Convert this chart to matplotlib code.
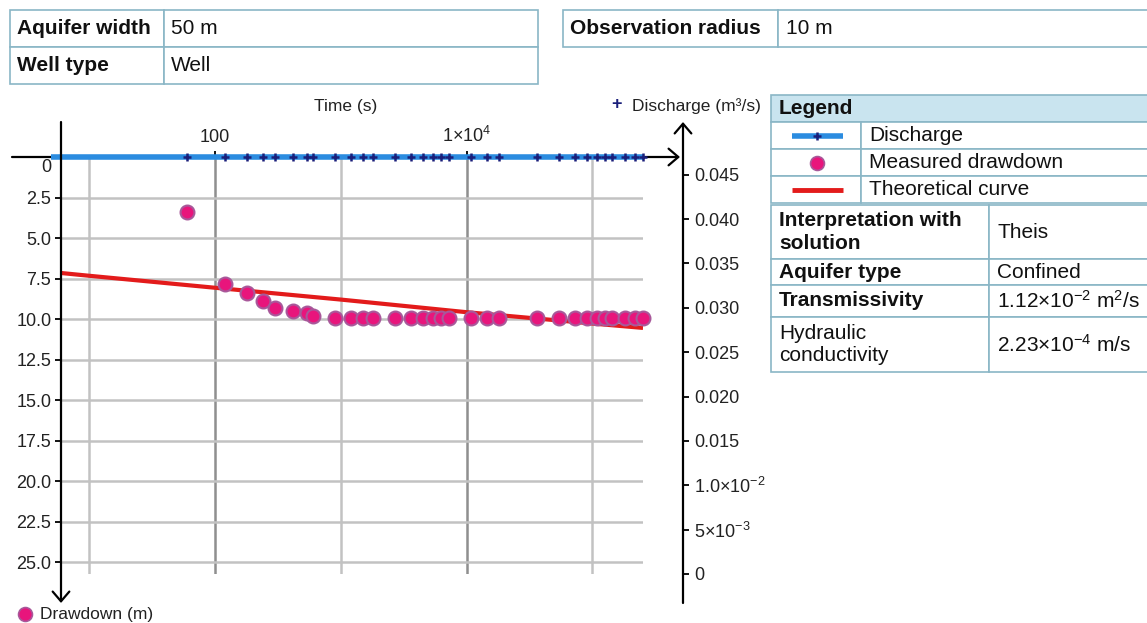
import matplotlib
matplotlib.use('Agg')
import matplotlib.pyplot as plt
from matplotlib.patches import Rectangle
from matplotlib.ticker import NullFormatter

plt.rcParams['font.family'] = ['Liberation Sans', 'DejaVu Sans']
plt.rcParams['mathtext.fontset'] = 'custom'
plt.rcParams['mathtext.rm'] = 'Liberation Sans'
plt.rcParams['mathtext.it'] = 'Liberation Sans:italic'
plt.rcParams['mathtext.bf'] = 'Liberation Sans:bold'

# ---------------- data ----------------
time_s = [60, 120, 180, 240, 300, 420, 540, 600, 900, 1200, 1500, 1800,
          2700, 3600, 4500, 5400, 6300, 7200, 10800, 14400, 18000, 36000,
          54000, 72000, 90000, 108000, 126000, 144000, 180000, 216000, 252000]
drawdown_m = [3.40, 7.82, 8.40, 8.89, 9.30, 9.53, 9.63, 9.83, 9.91, 9.91, 9.94, 9.94,
              9.94, 9.94, 9.94, 9.94, 9.94, 9.94, 9.94, 9.94, 9.94, 9.94,
              9.94, 9.94, 9.94, 9.94, 9.94, 9.94, 9.94, 9.94, 9.94]
discharge_m3s = [0.047, 0.047, 0.047, 0.047, 0.047, 0.047, 0.047, 0.047, 0.047, 0.047,
                 0.047, 0.047, 0.047, 0.047, 0.047, 0.047, 0.047, 0.047, 0.047, 0.047,
                 0.047, 0.047, 0.047, 0.047, 0.047, 0.047, 0.047, 0.047, 0.047, 0.047,
                 0.047]
discharge_line_t = [5, 252000]
discharge_line_q = [0.047, 0.047]
theis_t = [6, 10, 100, 1000, 10000, 100000, 252000]
theis_s = [7.16, 7.33, 8.07, 8.80, 9.58, 10.28, 10.55]

drawdown_ticks = [0, 2.5, 5.0, 7.5, 10.0, 12.5, 15.0, 17.5, 20.0, 22.5, 25.0]
drawdown_tick_labels = ['0', '2.5', '5.0', '7.5', '10.0', '12.5', '15.0', '17.5',
                        '20.0', '22.5', '25.0']
discharge_ticks = [0, 0.005, 0.010, 0.015, 0.020, 0.025, 0.030, 0.035, 0.040, 0.045]
discharge_tick_labels = ['0', r'$5{\times}10^{-3}$', r'$1.0{\times}10^{-2}$', '0.015', '0.020',
                         '0.025', '0.030', '0.035', '0.040', '0.045']
time_ticks = [100, 10000]
time_tick_labels = ['100', r'$1{\times}10^{4}$']
time_minor_ticks = [10, 1000, 100000]

top_table1 = [('Aquifer width', '50 m'), ('Well type', 'Well')]
top_table2 = [('Observation radius', '10 m')]
legend_rows = ['Discharge', 'Measured drawdown', 'Theoretical curve']
result_rows = [('Interpretation with\nsolution', 'Theis', True),
               ('Aquifer type', 'Confined', True),
               ('Transmissivity', r'$1.12{\times}10^{-2}\ \mathrm{m^{2}/s}$', True),
               ('Hydraulic\nconductivity', r'$2.23{\times}10^{-4}\ \mathrm{m/s}$', False)]

# ---------------- styles ----------------
PINK = '#e8157c'
PINK_EDGE = '#a8589a'
BLUE = '#2b8ce0'
NAVY = '#1a1f7a'
RED = '#e31b1b'
BORDER = '#8ab6c6'
HEADER = '#c9e4ef'
TXT = '#111111'

W, H = 1147, 623
fig = plt.figure(figsize=(W / 100, H / 100), dpi=100)
fig.patch.set_facecolor('white')


def fpos(x0, y0, x1, y1):
    return [x0 / W, 1 - y1 / H, (x1 - x0) / W, (y1 - y0) / H]


ax = fig.add_axes(fpos(61, 157, 643, 574))
ax.set_facecolor('none')
for s in ax.spines.values():
    s.set_visible(False)
ax.set_xscale('log')
ax.set_xlim(6, 252000)
ax.set_ylim(25.74, 0)

ax2 = ax.twinx()
ax2.set_ylim(0, 0.047)
for s in ax2.spines.values():
    s.set_visible(False)
ax2.spines['right'].set_position(('axes', (683 - 61) / (643 - 61)))

ov = fig.add_axes([0, 0, 1, 1])
ov.set_xlim(0, W)
ov.set_ylim(H, 0)
ov.axis('off')

# ticks and grid
ax.set_xticks(time_ticks)
ax.set_xticklabels(time_tick_labels)
ax.set_xticks(time_minor_ticks, minor=True)
ax.xaxis.set_minor_formatter(NullFormatter())
ax.tick_params(axis='x', which='major', top=True, labeltop=True, bottom=False,
               labelbottom=False, direction='out', length=4, width=1.3, pad=4,
               labelsize=13, labelcolor='#222222')
ax.tick_params(axis='x', which='minor', top=False, bottom=False)
ax.set_yticks(drawdown_ticks)
ax.set_yticklabels([''] + drawdown_tick_labels[1:])
ax.tick_params(axis='y', which='major', left=True, right=False, direction='out',
               length=4, width=1.3, pad=3, labelsize=13, labelcolor='#222222')
ax.grid(True, axis='x', which='major', color='#8f8f8f', lw=1.8)
ax.grid(True, axis='x', which='minor', color='#c2c2c2', lw=1.8)
ax.grid(True, axis='y', which='major', color='#c2c2c2', lw=1.8)
ax.set_axisbelow(True)
ov.text(51, 167, drawdown_tick_labels[0], ha='right', va='center', size=13, color='#222222')

ax2.set_yticks(discharge_ticks)
ax2.set_yticklabels(discharge_tick_labels)
ax2.tick_params(axis='y', right=True, left=False, direction='out', length=4,
                width=1.3, pad=4, labelsize=13, labelcolor='#222222')

# axis arrows
arrow_kw = dict(arrowstyle='->,head_length=0.7,head_width=0.6', color='black',
                lw=1.6, shrinkA=0, shrinkB=0)
ax.annotate('', xy=(680, 157), xytext=(12, 157), xycoords=ov.transData,
            textcoords=ov.transData, arrowprops=arrow_kw, annotation_clip=False, zorder=1)
ov.annotate('', xy=(61, 603), xytext=(61, 122), arrowprops=arrow_kw)
ov.annotate('', xy=(683, 122), xytext=(683, 603), arrowprops=arrow_kw)

# data
ax.plot(theis_t, theis_s, color=RED, lw=3, zorder=3, solid_capstyle='butt')
ax.plot(time_s, drawdown_m, 'o', ms=10, mfc=PINK, mec=PINK_EDGE, mew=1.5,
        zorder=4, clip_on=False)
ax2.plot(discharge_line_t, discharge_line_q, color=BLUE, lw=4, clip_on=False,
         solid_capstyle='butt', zorder=3)
ax2.plot(time_s, discharge_m3s, '+', ms=6, mew=1.8, color=NAVY, clip_on=False, zorder=4)

# axis titles
ov.text(346, 106, 'Time (s)', ha='center', va='center', size=12.5, color='#222222')
ov.text(617, 105, '+', color=NAVY, ha='center', va='center', size=13, weight='bold')
ov.text(632, 106, 'Discharge (m³/s)', ha='left', va='center', size=12.5, color='#222222')
ov.plot([25], [614], 'o', ms=10, mfc=PINK, mec=PINK_EDGE, mew=1.2, clip_on=False)
ov.text(40, 614, 'Drawdown (m)', ha='left', va='center', size=12.5, color='#222222')


# tables
def cell(x0, y0, x1, y1, fc='white', lw=1.2):
    ov.add_patch(Rectangle((x0, y0), x1 - x0, y1 - y0, fc=fc, ec=BORDER, lw=lw))


TS = 15
rows_y = [(10, 47), (47, 84)]
for (lab, val), (y0, y1) in zip(top_table1, rows_y):
    cell(10, y0, 164, y1)
    cell(164, y0, 538, y1)
    yc = (y0 + y1) / 2
    ov.text(17, yc, lab, ha='left', va='center', size=TS, weight='bold', color=TXT)
    ov.text(171, yc, val, ha='left', va='center', size=TS, color=TXT)

for (lab, val) in top_table2:
    cell(563, 10, 778, 47)
    cell(778, 10, 1160, 47)
    ov.text(570, 28.5, lab, ha='left', va='center', size=TS, weight='bold', color=TXT)
    ov.text(786, 28.5, val, ha='left', va='center', size=TS, color=TXT)

# legend table
cell(771, 95, 1160, 122, fc=HEADER)
ov.text(779, 108.5, 'Legend', ha='left', va='center', size=TS, weight='bold', color=TXT)
leg_y = [(122, 149), (149, 176), (176, 203)]
for name, (y0, y1) in zip(legend_rows, leg_y):
    cell(771, y0, 861, y1)
    cell(861, y0, 1160, y1)
    ov.text(869, (y0 + y1) / 2, name, ha='left', va='center', size=TS, color=TXT)
yc = sum(leg_y[0]) / 2
ov.plot([792, 843], [yc, yc], color=BLUE, lw=4, solid_capstyle='butt')
ov.plot([817], [yc], '+', ms=6, mew=1.8, color=NAVY)
yc = sum(leg_y[1]) / 2
ov.plot([817], [yc], 'o', ms=10, mfc=PINK, mec=PINK_EDGE, mew=1.2)
yc = sum(leg_y[2]) / 2
ov.plot([792, 843], [yc, yc], color=RED, lw=3.5, solid_capstyle='butt')

res_y = [(205, 259), (259, 285), (285, 317), (317, 372)]
for (lab, val, bold), (y0, y1) in zip(result_rows, res_y):
    cell(771, y0, 989, y1)
    cell(989, y0, 1160, y1)
    yc = (y0 + y1) / 2
    ov.text(779, yc, lab, ha='left', va='center', size=TS,
            weight='bold' if bold else 'normal', color=TXT, linespacing=1.25)
    ov.text(997, yc, val, ha='left', va='center', size=TS, color=TXT)

fig.savefig('out.png', dpi=100, facecolor='white')
